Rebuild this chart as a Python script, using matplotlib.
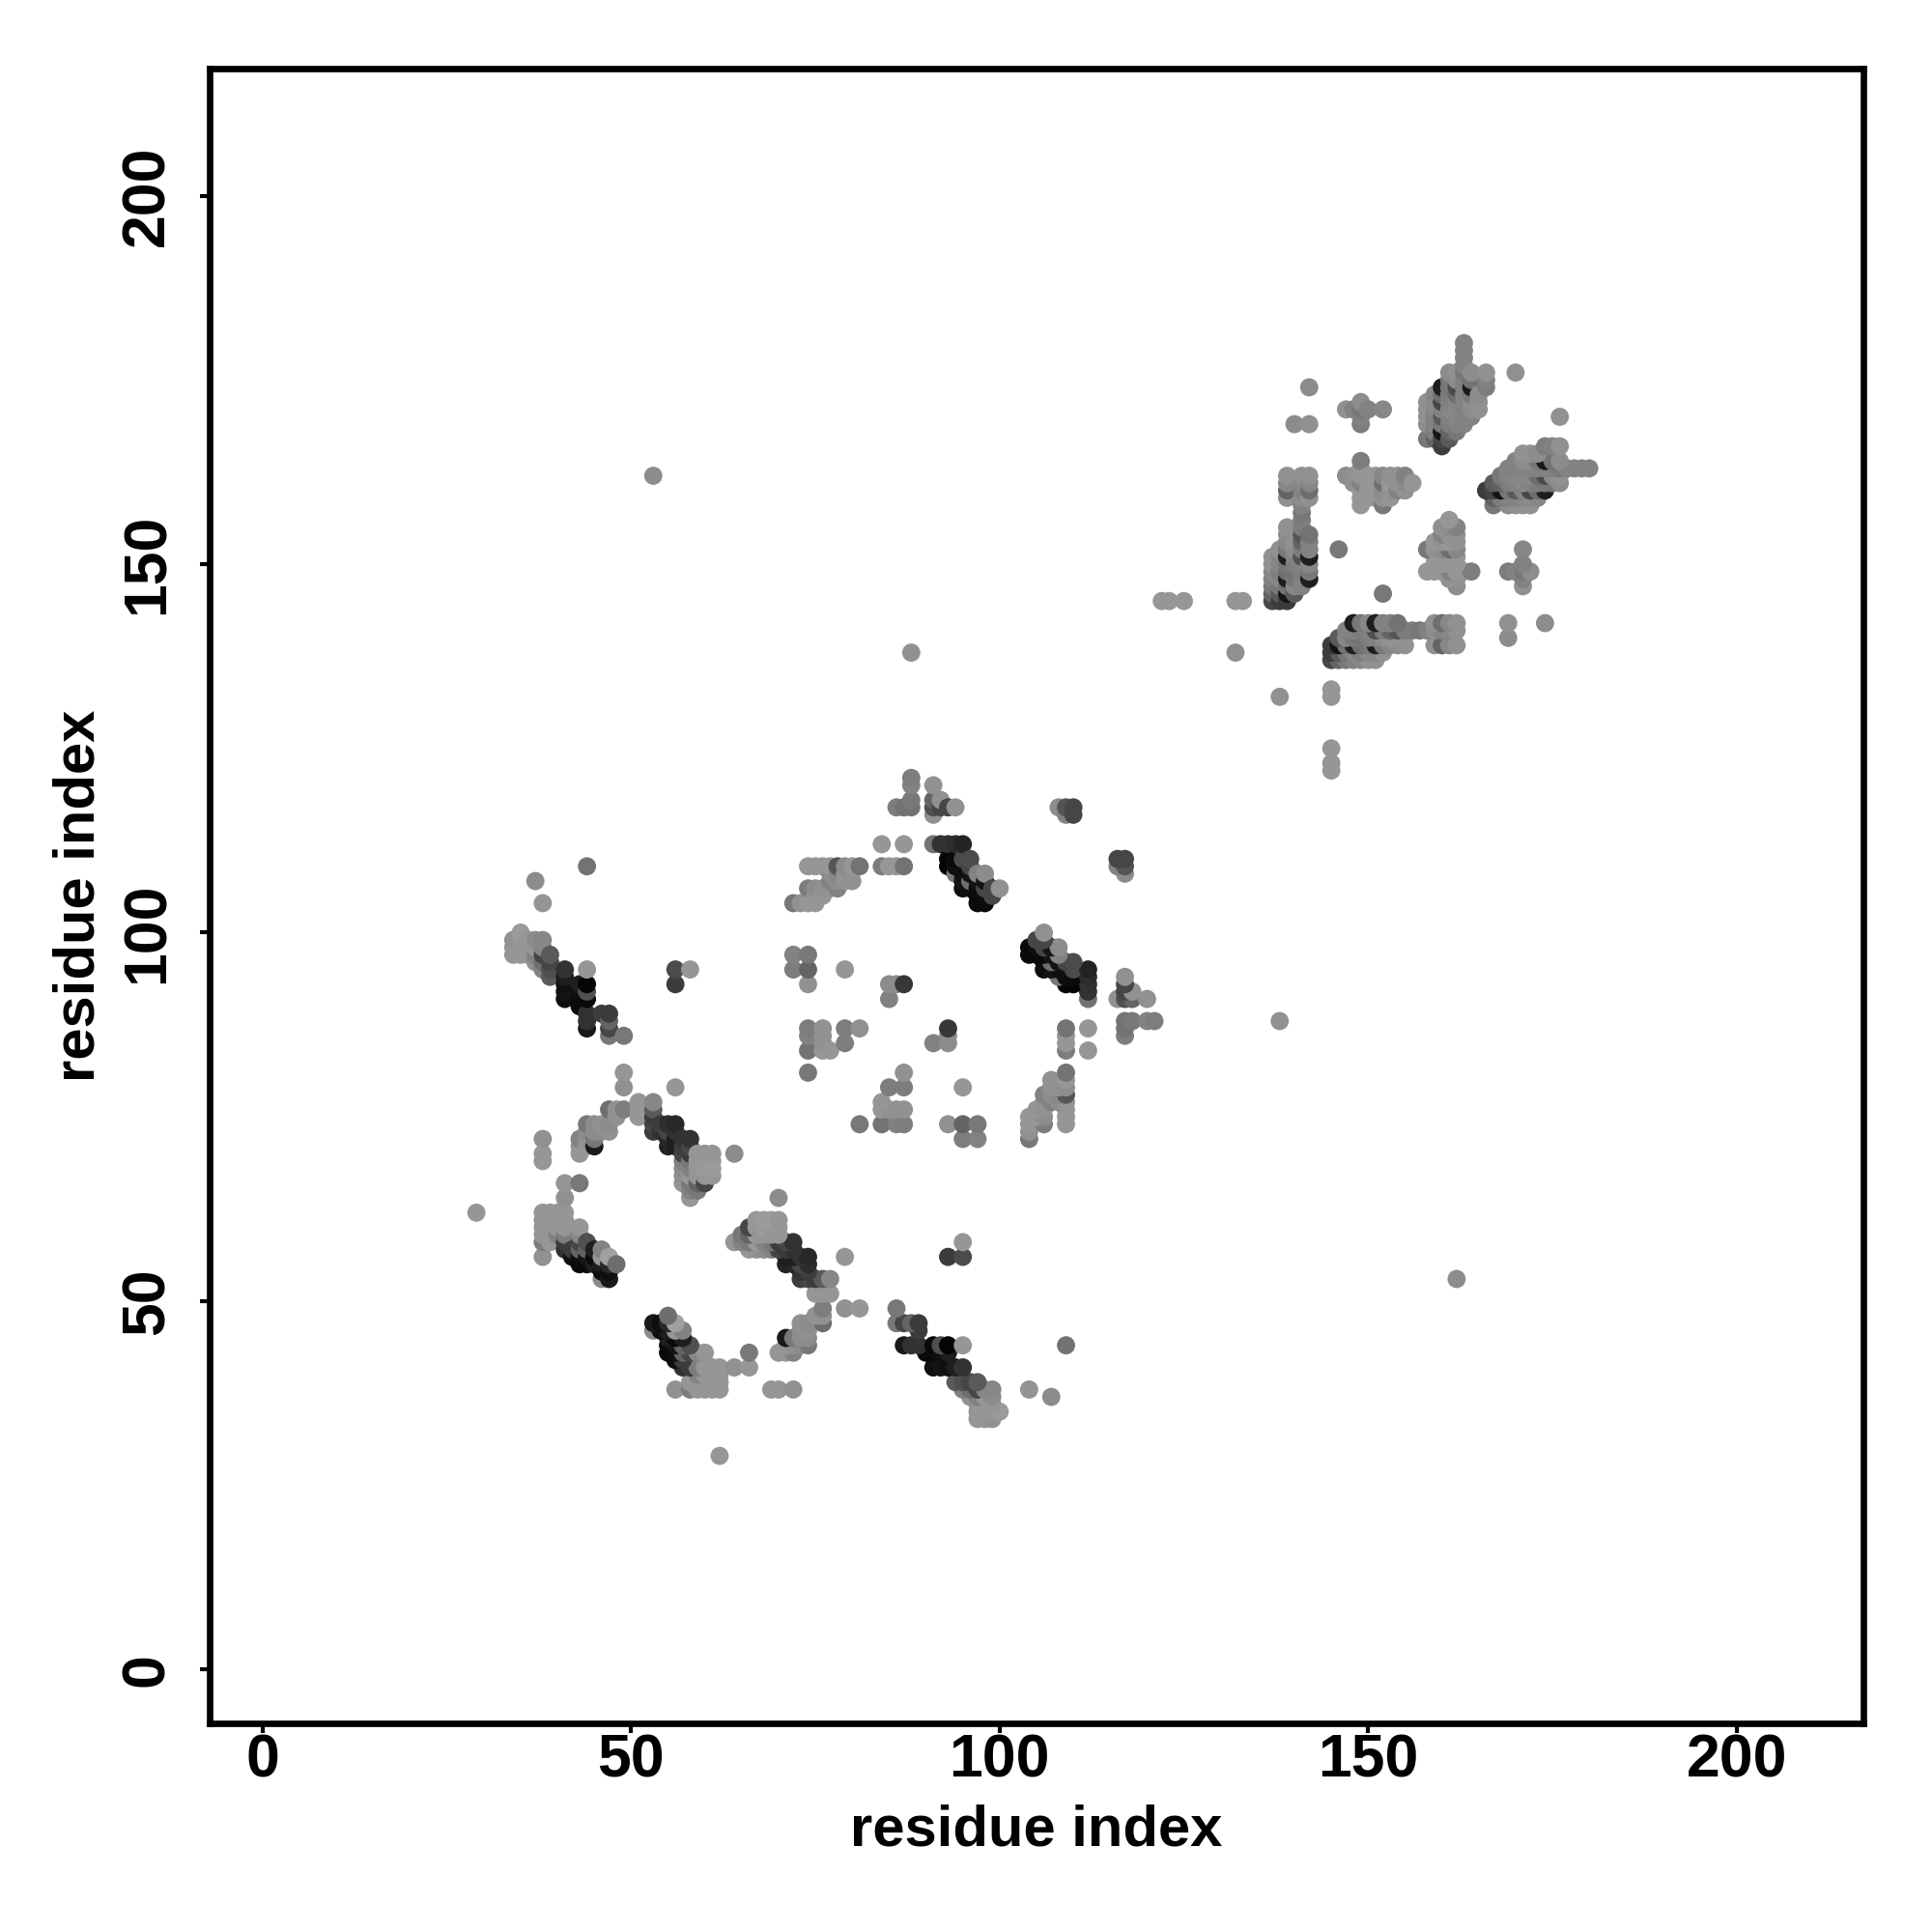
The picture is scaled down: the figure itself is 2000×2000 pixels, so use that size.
import numpy as np
import matplotlib
matplotlib.use("Agg")
import matplotlib.pyplot as plt

plt.rcParams['font.family'] = ['Liberation Sans', 'DejaVu Sans']

tick_values = [0, 50, 100, 150, 200]
axis_label = "residue index"

# contacts as (residue a, residue b, grey level), a < b. the map is symmetric
isolated = [
    (29, 62, 150), (53, 162, 140), (88, 138, 145), (37, 107, 140), (38, 104, 148),
    (44, 109, 115), (49, 81, 150), (49, 79, 145), (56, 79, 150), (49, 86, 120),
    (56, 93, 60), (56, 95, 75), (58, 95, 150), (38, 72, 145), (38, 70, 150),
    (38, 69, 150), (64, 70, 140), (132, 138, 145), (122, 145, 150), (123, 145, 150),
    (125, 145, 150), (132, 145, 150), (133, 145, 150),
    (146, 152, 120), (140, 169, 140), (142, 169, 145), (142, 174, 140),
    (170, 176, 145),
]

loop_low = [
    (38, 56, 145), (38, 58, 125), (38, 59, 150), (38, 60, 150), (38, 61, 150), (38, 62, 150),
    (39, 58, 150), (39, 59, 150), (39, 60, 150), (39, 61, 150), (39, 62, 150),
    (40, 59, 130), (40, 60, 150), (40, 61, 150), (40, 62, 150),
    (41, 57, 50), (41, 58, 60), (41, 59, 125), (41, 60, 150), (41, 61, 150), (41, 62, 150),
    (41, 64, 145), (41, 66, 150), (42, 56, 15), (42, 57, 60),
    (43, 55, 10), (43, 56, 15), (43, 57, 100), (43, 58, 70), (43, 59, 135), (43, 60, 150), (43, 66, 120),
    (44, 55, 10), (44, 56, 20), (44, 57, 100), (44, 58, 80),
    (45, 55, 30), (45, 56, 10), (45, 57, 30),
    (46, 53, 140), (46, 54, 15), (46, 55, 30), (46, 56, 150), (46, 57, 130),
    (47, 53, 25), (47, 54, 15), (47, 55, 40), (47, 56, 160), (48, 55, 110),
]

loop_mid = [
    (43, 70, 150), (43, 71, 150), (43, 72, 130), (44, 71, 150), (44, 72, 145), (44, 73, 140), (44, 74, 120),
    (45, 71, 25), (45, 72, 120), (45, 73, 140), (45, 74, 140), (46, 73, 140), (46, 74, 145),
    (47, 73, 145), (47, 74, 140), (47, 76, 110), (48, 75, 145), (48, 76, 145), (49, 76, 125),
    (51, 75, 150), (51, 76, 150), (51, 77, 150),
]

strand_53 = [
    (53, 73, 60), (53, 74, 70), (53, 75, 60), (53, 76, 90), (53, 77, 135),
    (54, 73, 50), (54, 74, 60), (55, 71, 35), (55, 72, 40), (55, 73, 70), (55, 74, 45),
    (56, 71, 30), (56, 72, 30), (56, 73, 50), (56, 74, 40),
    (57, 66, 150), (57, 67, 145), (57, 68, 140), (57, 69, 130), (57, 70, 70), (57, 71, 60), (57, 72, 50),
    (58, 64, 150), (58, 65, 130), (58, 66, 120), (58, 67, 150), (58, 68, 130), (58, 69, 120),
    (58, 70, 60), (58, 71, 70), (58, 72, 50),
    (59, 65, 120), (59, 66, 100), (59, 67, 150), (59, 68, 150), (59, 69, 150), (59, 70, 150),
    (60, 66, 70), (60, 67, 150), (60, 68, 155), (60, 69, 150), (60, 70, 150),
    (61, 67, 150), (61, 68, 155), (61, 69, 155), (61, 70, 150),
]

strand_34 = [
    (34, 97, 150), (34, 98, 150), (34, 99, 145), (35, 97, 150), (35, 98, 150), (35, 99, 150), (35, 100, 155),
    (36, 97, 150), (36, 98, 150), (36, 99, 150), (37, 96, 145), (37, 97, 130), (37, 98, 150), (37, 99, 140),
    (38, 95, 130), (38, 96, 110), (38, 97, 70), (38, 98, 135), (38, 99, 135),
    (39, 94, 90), (39, 95, 80), (39, 96, 70), (39, 97, 90),
    (41, 91, 15), (41, 92, 20), (41, 93, 15), (41, 94, 30), (41, 95, 50),
    (43, 90, 10), (43, 91, 10), (43, 92, 15), (43, 93, 30),
    (44, 87, 25), (44, 88, 50), (44, 89, 50), (44, 91, 10), (44, 92, 80), (44, 93, 5), (44, 95, 150),
    (46, 89, 60), (47, 86, 120), (47, 87, 70), (47, 88, 100), (47, 89, 60),
]

middle = [
    (72, 95, 125), (72, 97, 130), (74, 93, 145), (74, 95, 100), (74, 97, 120), (79, 95, 150),
    (85, 91, 130), (85, 93, 140), (86, 93, 140), (87, 93, 55),
    (74, 81, 120), (74, 84, 115), (74, 86, 130), (74, 87, 125), (76, 84, 150), (76, 85, 145), (76, 86, 145), (76, 87, 145),
    (77, 84, 150), (79, 85, 125), (79, 87, 125), (81, 87, 145),
]

upper_arc = [
    (72, 104, 120), (73, 104, 145), (74, 104, 150), (75, 104, 150), (75, 105, 150), (76, 105, 150),
    (74, 106, 125), (75, 106, 140), (76, 106, 145), (77, 106, 145), (78, 106, 130),
    (77, 107, 130), (78, 107, 140), (79, 107, 145), (80, 107, 145), (77, 108, 140), (78, 108, 135), (79, 108, 145),
    (74, 109, 150), (75, 109, 150), (76, 109, 150), (77, 109, 150), (78, 109, 85), (79, 109, 140), (80, 109, 150),
    (81, 109, 115), (84, 109, 125), (85, 109, 150), (86, 109, 150), (87, 109, 115), (84, 112, 150), (87, 112, 150),
    (86, 117, 125), (87, 117, 115), (88, 117, 115), (88, 118, 120), (88, 120, 130), (88, 121, 125),
    (91, 116, 145), (91, 117, 80), (91, 118, 100), (91, 120, 145), (92, 117, 70), (92, 118, 145), (93, 117, 70), (94, 117, 145),
    (108, 117, 140), (109, 116, 130), (109, 117, 85), (110, 116, 70), (110, 117, 70),
]

strand_91 = [
    (91, 112, 115), (92, 112, 50), (93, 112, 50), (94, 112, 45), (95, 112, 35),
    (93, 109, 5), (93, 110, 5), (94, 108, 120), (94, 109, 15), (94, 110, 10), (95, 106, 15), (95, 107, 20), (95, 108, 15),
    (95, 110, 75), (96, 107, 110), (96, 108, 20), (96, 109, 70), (96, 110, 75), (96, 106, 15),
    (97, 104, 10), (97, 105, 10), (97, 106, 10), (97, 107, 20), (97, 108, 130),
    (98, 104, 10), (98, 105, 15), (98, 106, 70), (98, 107, 20), (98, 108, 140),
    (99, 105, 70), (99, 106, 70), (100, 106, 145),
]

block_137 = [
    (137, 145, 70), (137, 146, 100), (137, 147, 120), (137, 148, 130), (137, 149, 135), (137, 150, 145), (137, 151, 145),
    (138, 145, 60), (138, 146, 90), (138, 147, 120), (138, 148, 135), (138, 149, 125), (138, 150, 135), (138, 151, 135), (138, 152, 145),
    (139, 145, 60), (139, 146, 20), (139, 147, 115), (139, 148, 30), (139, 149, 110), (139, 150, 120), (139, 151, 30),
    (139, 152, 120), (139, 153, 135), (139, 154, 140), (139, 155, 145),
    (139, 159, 145), (139, 160, 100), (139, 161, 135), (139, 162, 145),
    (140, 146, 90), (140, 147, 135), (140, 148, 120), (140, 149, 115), (140, 150, 125), (140, 151, 130), (140, 152, 140), (140, 153, 145),
    (141, 147, 130), (141, 148, 130), (141, 149, 125), (141, 150, 130), (141, 151, 80), (141, 152, 125), (141, 153, 100),
    (141, 154, 85), (141, 155, 125), (141, 156, 125), (141, 157, 120), (141, 158, 130),
    (141, 159, 140), (141, 160, 130), (141, 161, 135), (141, 162, 145),
    (142, 148, 30), (142, 149, 120), (142, 150, 135), (142, 151, 30), (142, 152, 130), (142, 153, 130), (142, 154, 115),
    (142, 159, 145), (142, 160, 110), (142, 161, 135), (142, 162, 145),
]

block_147 = [
    (147, 162, 140), (148, 161, 145), (148, 162, 145),
    (149, 158, 150), (149, 159, 150), (149, 160, 150), (149, 161, 130), (149, 162, 150), (149, 163, 150), (149, 164, 125),
    (150, 159, 150), (150, 160, 150), (150, 161, 150), (150, 162, 150),
    (151, 159, 150), (151, 160, 150), (151, 161, 150), (151, 162, 150),
    (152, 158, 120), (152, 159, 145), (152, 160, 140), (152, 161, 110), (152, 162, 135),
    (153, 159, 150), (153, 160, 145), (153, 161, 150), (153, 162, 145),
    (154, 160, 130), (154, 161, 145), (154, 162, 145),
    (155, 160, 145), (155, 161, 140), (155, 162, 130), (156, 161, 150),
    (147, 171, 145), (148, 171, 130), (149, 169, 125), (149, 170, 130), (149, 171, 120), (149, 172, 140), (150, 171, 130), (152, 171, 135),
]

block_158 = [
    (158, 167, 120), (158, 169, 140), (158, 170, 145), (158, 171, 145), (158, 172, 145),
    (159, 167, 100), (159, 168, 125), (159, 169, 130), (159, 170, 130), (159, 171, 135), (159, 172, 140), (159, 173, 135),
    (160, 166, 60), (160, 167, 70), (160, 168, 20), (160, 169, 120), (160, 170, 90), (160, 171, 130), (160, 172, 70), (160, 173, 110), (160, 174, 30),
    (161, 167, 90), (161, 168, 100), (161, 169, 125), (161, 170, 130), (161, 171, 135), (161, 172, 130), (161, 173, 125), (161, 174, 120), (161, 175, 120), (161, 176, 140),
    (162, 168, 120), (162, 169, 130), (162, 170, 135), (162, 171, 135), (162, 172, 135), (162, 173, 110), (162, 174, 75), (162, 175, 140), (162, 176, 145),
    (163, 169, 130), (163, 170, 130), (163, 171, 130), (163, 172, 130), (163, 173, 130), (163, 174, 130), (163, 175, 130), (163, 176, 120),
    (163, 177, 130), (163, 178, 130), (163, 179, 130), (163, 180, 130),
    (164, 170, 130), (164, 171, 140), (164, 172, 140), (164, 173, 120), (164, 174, 25), (164, 175, 115), (164, 176, 140),
    (165, 171, 145), (165, 172, 145), (165, 173, 140),
    (166, 174, 125), (166, 175, 130), (166, 176, 145),
]

contacts = np.array(isolated + loop_low + loop_mid + strand_53 + strand_34 + middle
                    + upper_arc + strand_91 + block_137 + block_147 + block_158)
a = contacts[:, 0]
b = contacts[:, 1]

x = np.concatenate([a, b])
y = np.concatenate([b, a])
grey = np.concatenate([contacts[:, 2], contacts[:, 2]])

# drawn residue by residue, later ones lie over earlier ones
order = np.lexsort((np.concatenate([b, b]), np.concatenate([a, a])))

fig = plt.figure(figsize=(10, 10), dpi=200)
ax = fig.add_axes([0.1085, 0.108, 0.856, 0.8563])
ax.scatter(x[order], y[order], c=grey[order], cmap="gray", vmin=0, vmax=255, s=46, linewidths=0)

ax.set_xlim(-7.2, 217.2)
ax.set_ylim(-7.3, 217.2)
ax.set_xticks(tick_values)
ax.set_yticks(tick_values)
ax.tick_params(length=3.5, width=1.5, labelsize=22.5)
ax.tick_params(axis="x", pad=0)
ax.tick_params(axis="y", pad=9)
for lab in ax.get_xticklabels():
    lab.set_fontweight("bold")
for lab in ax.get_yticklabels():
    lab.set_fontweight("bold")
    lab.set_rotation(90)
    lab.set_va("center")
for spine in ax.spines.values():
    spine.set_linewidth(2.4)

ax.set_xlabel(axis_label, fontsize=21.5, fontweight="bold")
ax.set_ylabel(axis_label, fontsize=21.5, fontweight="bold")
ax.xaxis.set_label_coords(0.5, -0.0487)
ax.yaxis.set_label_coords(-0.0625, 0.5)

fig.savefig("out.png", dpi=200)
